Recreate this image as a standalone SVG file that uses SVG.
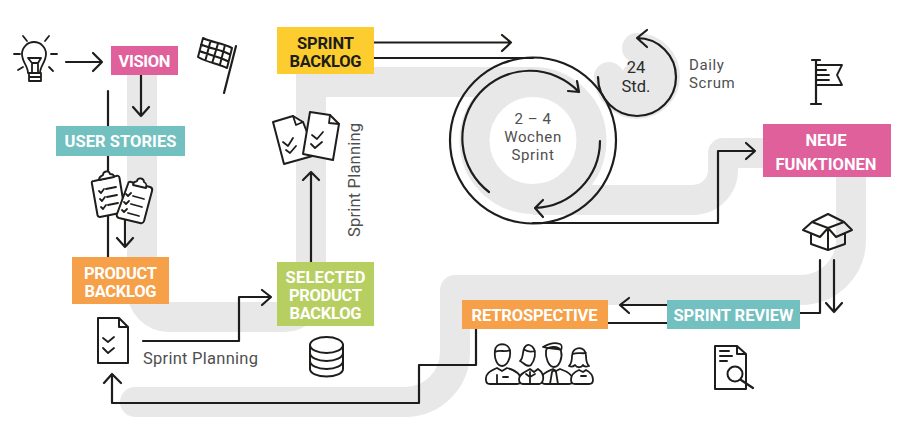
<svg xmlns="http://www.w3.org/2000/svg" width="904" height="427" viewBox="0 0 904 427">
<style>
.band{fill:none;stroke:#e8e8e8;stroke-width:30;stroke-linejoin:round}
.ln{fill:none;stroke:#1d1d1b;stroke-width:2.2;stroke-linecap:round;stroke-linejoin:round}
.ic{fill:#fff;stroke:#1d1d1b;stroke-width:1.8;stroke-linecap:round;stroke-linejoin:round}
.in{fill:none;stroke:#1d1d1b;stroke-width:1.8;stroke-linecap:round;stroke-linejoin:round}
.t{font-family:"Roboto","Liberation Sans",sans-serif;font-weight:700;font-size:16.5px;fill:#fff;text-anchor:middle}
.g{font-family:"Roboto","Liberation Sans",sans-serif;font-size:16.5px;fill:#4f4f4f}
.s{font-size:15px;letter-spacing:.6px}
.c{text-anchor:middle}
</style>
<rect width="904" height="427" fill="#fff"/>
<g id="bands">
<path class="band" style="stroke-linejoin:miter" d="M142 60V290A27 27 0 0 0 169 317H284A27 27 0 0 0 311 290V82H533"/>
<circle class="band" cx="533" cy="140.500" r="58.500"/>
<path class="band" d="M533 200H693A30 30 0 0 0 723 170V153H780"/>
<path class="band" d="M851 170V240A50 50 0 0 1 801 290H455V352A50 50 0 0 1 405 402H135" stroke-linecap="round"/>
<path class="band" d="M609 77A28 28 0 1 0 637 48" stroke-linecap="round"/>
<circle cx="637" cy="76" r="15" fill="#e8e8e8"/>
</g>
<g id="connectors">
<path class="ln" d="M66 62H102M93 53L102 62L93 71"/>
<path class="ln" d="M141 75V116M133 107L141 116L149 107"/>
<path class="ln" d="M108 91V257"/>
<path class="ln" d="M125 215V247M117 238L125 247L133 238"/>
<path class="ln" d="M143 341H239V297H270M262 290L271 297L262 305"/>
<path class="ln" d="M311 262V172M303 180L311 172L319 180"/>
<path class="ln" d="M374 42.500H511M502 35L511 42.500L502 51"/>
<path class="ln" d="M374 58H533"/>
<circle class="ln" cx="533" cy="140.500" r="83"/>
<path class="ln" d="M489 192A67.500 67.500 0 1 1 579 92M568 91L579 92L577 81"/>
<path class="ln" d="M600 141A67.500 67.500 0 0 1 535 208M543 200L535 208L543 217"/>
<path class="ln" d="M598 77A39 39 0 1 0 637 38M647 30L637 38L647 47"/>
<path class="ln" d="M533 223H718V151H755M746 143L755 151L746 159"/>
<path class="ln" d="M820 260V313H800"/>
<path class="ln" d="M834 260V312M826 303L834 312L842 303"/>
<path class="ln" d="M667 305H620M629 298L620 305L629 313"/>
<path class="ln" d="M608 323H667"/>
<path class="ln" d="M476 329V365H419V403H112V374M104 383L112 374L121 383"/>
</g>
<g id="vision"><rect x="111" y="46" width="67" height="29" fill="#e0609c"/><text class="t" x="144.500" y="66.500" textLength="52">VISION</text></g>
<g id="user-stories"><rect x="56" y="126" width="129" height="30" fill="#72c0bf"/><text class="t" x="120.500" y="147" textLength="112">USER STORIES</text></g>
<g id="product-backlog"><rect x="72" y="257" width="97" height="47" fill="#f6a04a"/><text class="t" x="120.500" y="279" textLength="73">PRODUCT</text><text class="t" x="120.500" y="297" textLength="72">BACKLOG</text></g>
<g id="selected-product-backlog"><rect x="277" y="262" width="97" height="64" fill="#b6cf60"/><text class="t" x="325.500" y="283" textLength="80">SELECTED</text><text class="t" x="325.500" y="301" textLength="73">PRODUCT</text><text class="t" x="325.500" y="319" textLength="72">BACKLOG</text></g>
<g id="sprint-backlog"><rect x="277" y="27" width="97" height="47" fill="#fdcd2f"/><text class="t" x="325.500" y="49" textLength="57" style="fill:#1d1d1b">SPRINT</text><text class="t" x="325.500" y="67" textLength="72" style="fill:#1d1d1b">BACKLOG</text></g>
<g id="neue-funktionen"><rect x="763" y="124" width="128" height="53" fill="#e0609c"/><text class="t" x="826" y="146" textLength="41">NEUE</text><text class="t" x="826" y="170" textLength="101">FUNKTIONEN</text></g>
<g id="retrospective"><rect x="462" y="300" width="146" height="29" fill="#f6a04a"/><text class="t" x="534.500" y="320.500" textLength="126">RETROSPECTIVE</text></g>
<g id="sprint-review"><rect x="667" y="300" width="133" height="29" fill="#72c0bf"/><text class="t" x="733.500" y="320.500" textLength="120">SPRINT REVIEW</text></g>
<g id="labels">
<text class="g" x="143" y="364" textLength="115">Sprint Planning</text>
<text class="g" transform="translate(360 237) rotate(-90)" textLength="114">Sprint Planning</text>
<text class="g s c" x="533" y="124">2 – 4</text>
<text class="g s c" x="533" y="142">Wochen</text>
<text class="g s c" x="533" y="160">Sprint</text>
<text class="g c" x="636" y="73" style="fill:#2b2b2b">24</text>
<text class="g c" x="636" y="92" style="fill:#2b2b2b">Std.</text>
<text class="g s" x="689" y="70">Daily</text>
<text class="g s" x="689" y="88">Scrum</text>
</g>
<g id="icon-bulb">
<path class="in" d="M28 73C28 66 22 62 22 54A12 12 0 0 1 46 54C46 62 40 66 40 73ZM29 73V81H41V73M29 77H41M28 58H41L38 63V73M32 63V73M28 58L32 63H38"/>
<path class="in" d="M14 54H20M51 54H57M23 36L27 41M49 36L45 41M18 70L23 67M53 71L49 67"/>
</g>
<g id="icon-checkered-flag">
<path class="ln" d="M236 46L224 93"/>
<path class="ic" style="stroke-width:2" d="M203 38C213 43 221 42 232 48L227 68C217 63 208 63 198 57ZM201 44.500C211 49 220 49 230 54.500M199.500 51C209 55 218 56 228.500 61.500M210.500 41L205.500 60M218 43.500L212.500 62M225 45L220 64.500"/>
</g>
<g id="icon-clipboards">
<path class="ic" style="stroke-width:2" d="M92 184Q91 181 94 181L116 176Q119 175 119.500 178L125 212L100 217Q98 217 97.500 215Z"/>
<path class="ic" d="M99 180C99 176 102 176 103 175C103 171 109 170 110 174C112 174 114 174 114 177Z"/>
<path class="in" d="M106 189L116 187M107 197L117 195M108 205L118 203M99 191l2 2 3-4M100 199l2 2 3-4M101 207l2 2 3-4"/>
<path class="ic" style="stroke-width:2" d="M128 184Q128.500 181 131 182L150 187Q153 188 152 191L144 221Q143 224 140 223L119 218Q116 217 117 214Z"/>
<path class="ic" d="M133 185C133 181 136 182 137 181C138 177 144 178 144 182C146 183 147 184 146 188Z"/>
<path class="in" d="M133 196L144 199M131 204L142 207M128 213L139 216M126 194l2 2 3-3M124 202l2 2 3-3M122 210l2 2 3-3"/>
</g>
<g id="icon-doc-check">
<path class="ic" style="stroke-width:2" d="M98 318H119L128 327V363H98ZM119 318V327H128"/>
<path class="in" d="M103 338l5 4 6-5M103 348l5 5 6-5"/>
</g>
<g id="icon-database">
<path class="ic" style="stroke-width:2" d="M310 345A16.500 8 0 0 1 343 345V369A16.500 7.500 0 0 1 310 369Z"/>
<path class="in" style="stroke-width:2" d="M310 345A16.500 8 0 0 0 343 345M310 353A16.500 8 0 0 0 343 353M310 361A16.500 8 0 0 0 343 361"/>
</g>
<g id="icon-docs-check">
<path class="ic" style="stroke-width:2" d="M273 122L293 116L303 122L316 155L284 164Z"/>
<path class="in" d="M293 116L296 125L303 122M283 142l5 4 5-8M286 150l4 3 6-7"/>
<path class="ic" style="stroke-width:2" d="M310 112L330 115L339 124L333 160L303 154Z"/>
<path class="in" d="M330 115L329 123L339 124M312 135l5 4 6-7M311 144l4 4 7-6"/>
</g>
<g id="icon-flag">
<path class="ln" d="M816 60V104M812 60H820M811 104H821"/>
<path class="in" d="M816 65H842L837 75L842 85H816M817 70H826M817 75H829M817 80H829"/>
</g>
<g id="icon-box">
<path class="in" style="stroke-width:2" d="M812 222L828 214L844 222L828 228ZM812 222L803 230L820 237L828 228L836 237L852 230L844 222M811 234V244L828 250L845 244V234M828 228V250"/>
</g>
<g id="icon-people">
<path class="ic" d="M486 380C485 374 490 371 497 368L502 371L507 368C514 370 521 374 521 380C521 383 519 384 517 384H490C487 384 486 382 486 380Z"/>
<path class="ic" d="M495 351C495 342 509 342 510 351C511 358 507 366 502 366C497 366 494 358 495 351ZM495 352C500 349 505 353 510 350M503 377H508M497 375V384"/>
<path class="ic" d="M541 378C542 373 549 371 553 369L556 371L560 369C566 371 573 374 573 380C573 383 571 384 569 384H545C542 384 541 381 541 378Z"/>
<path class="ic" d="M546 351C546 346 559 345 561 351C563 358 559 367 554 367C549 367 545 358 546 351ZM543 347C548 344 555 342 560 344C562 345 562 348 561 350C556 348 550 349 543 347ZM552 372L550 384H558L556 372L554 370Z"/>
<path class="ic" d="M519 379C519 374 525 372 530 369L534 372L538 369C541 371 544 375 543 380C542 383 541 384 539 384H523C520 384 519 382 519 379Z"/>
<path class="ic" d="M520 361C524 358 522 350 525 347C527 343 532 345 534 349C536 353 535 360 531 365C527 368 524 363 520 361ZM525 350C528 352 531 352 535 351M530 372V384M526 374L530 377L535 374"/>
<path class="ic" d="M571 380C571 375 574 372 579 370L583 372L586 370C590 372 593 375 593 380C593 383 591 384 589 384H575C572 384 571 382 571 380Z"/>
<path class="ic" d="M572 356C572 346 586 345 586 356C586 361 587 364 589 366C586 367 584 367 583 365C581 368 577 368 575 365C573 367 571 367 569 366C571 364 572 361 572 356ZM573 354C577 352 582 354 586 353M581 376H586"/>
</g>
<g id="icon-doc-search">
<path class="in" style="stroke-width:2" d="M715 346H737L746 354V389H715ZM737 346V354H746M720 351H729M720 356H732M720 361H727"/>
<circle class="ic" style="stroke-width:2" cx="735" cy="374" r="7.500"/>
<path class="ln" d="M741 380L753 388"/>
</g>
</svg>
